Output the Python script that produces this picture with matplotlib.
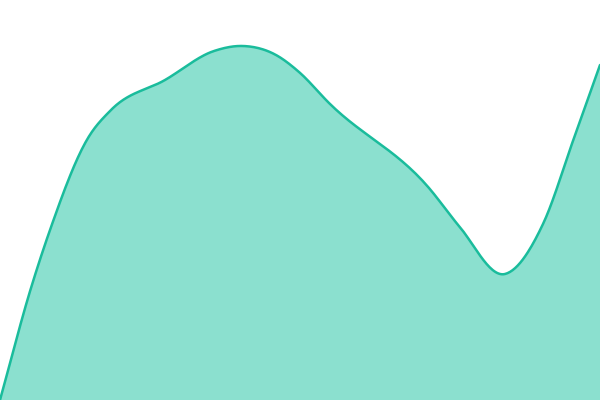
import numpy as np
import matplotlib
matplotlib.use("Agg")
import matplotlib.pyplot as plt

# points (x position, value above the bottom edge)
xs = [0, 31, 50, 88, 111, 165, 214, 243, 276, 299, 329, 429, 459, 505, 543, 574, 600]
vals = [0, 112, 170, 262, 290, 320, 349, 354, 345, 328, 297, 212, 174, 126, 176, 262, 335]

line_color = "#1abc9c"
fill_color = "#8be0cf"


def smooth(x, y, n=30):
    # cubic hermite through the points, tangents from finite differences
    x = np.asarray(x, float)
    y = np.asarray(y, float)
    m = np.gradient(y, x)
    ox, oy = [], []
    for i in range(len(x) - 1):
        h = x[i + 1] - x[i]
        t = np.linspace(0, 1, n, endpoint=False)
        h00 = 2*t**3 - 3*t**2 + 1
        h10 = t**3 - 2*t**2 + t
        h01 = -2*t**3 + 3*t**2
        h11 = t**3 - t**2
        ox.extend(x[i] + t*h)
        oy.extend(h00*y[i] + h10*h*m[i] + h01*y[i+1] + h11*h*m[i+1])
    ox.append(x[-1])
    oy.append(y[-1])
    return np.array(ox), np.array(oy)


sx, sy = smooth(xs, vals)

fig = plt.figure(figsize=(6, 4), dpi=100)
ax = fig.add_axes([0, 0, 1, 1])
ax.fill_between(sx, sy, 0, color=fill_color, linewidth=0)
ax.plot(sx, sy, color=line_color, linewidth=1.8, solid_capstyle="round")
ax.set_xlim(0, 600)
ax.set_ylim(0, 400)
ax.axis("off")
fig.savefig("out.png", dpi=100)
